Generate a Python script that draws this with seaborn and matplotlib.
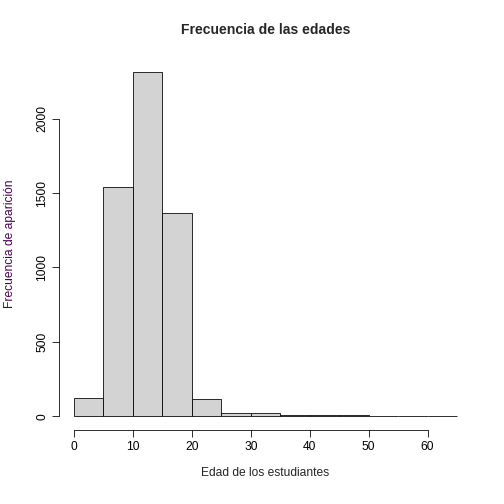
import numpy as np
import matplotlib
matplotlib.use("Agg")
import matplotlib.pyplot as plt
import seaborn as sns

# ─── Data ─────────────────────────────────────────────────────────────────────
bin_edges = list(range(0, 70, 5))
counts = [121, 1542, 2316, 1367, 114, 25, 25, 10, 10, 8, 2, 1, 1]
ticks_x = [0, 10, 20, 30, 40, 50, 60]
ticks_y = [0, 500, 1000, 1500, 2000]

mids = [e + 2.5 for e in bin_edges[:-1]]

sns.set_style("white")
plt.rcParams["font.family"] = ["Liberation Sans", "DejaVu Sans"]

fig = plt.figure(figsize=(7, 7), dpi=72)
ax = fig.add_axes([0.1165, 0.1468, 0.8206, 0.738])
sns.histplot(x=mids, weights=counts, bins=bin_edges, color="#d3d3d3",
             edgecolor="black", linewidth=0.8, alpha=1, ax=ax)

ax.set_xlim(-2.6, 67.6)
ax.set_ylim(-92.6, 2408)
for s in ["top", "right"]:
    ax.spines[s].set_visible(False)
ax.spines["left"].set_bounds(0, 2000)
ax.spines["bottom"].set_bounds(0, 60)
for s in ["left", "bottom"]:
    ax.spines[s].set_color("black")
    ax.spines[s].set_linewidth(0.8)
ax.set_xticks(ticks_x)
ax.set_yticks(ticks_y)
ax.set_yticklabels([str(t) for t in ticks_y], rotation=90, va="center")
ax.tick_params(axis="both", direction="out", length=7, width=0.8,
               colors="black", labelsize=12, left=True, bottom=True)
ax.set_xlabel("Edad de los estudiantes", fontsize=12, labelpad=14)
ax.set_ylabel("Frecuencia de aparición", fontsize=12, color="#4b0050", labelpad=20)
ax.set_title("Frecuencia de las edades", fontsize=14, fontweight="bold", pad=24)

fig.savefig("out.png", dpi=72)
